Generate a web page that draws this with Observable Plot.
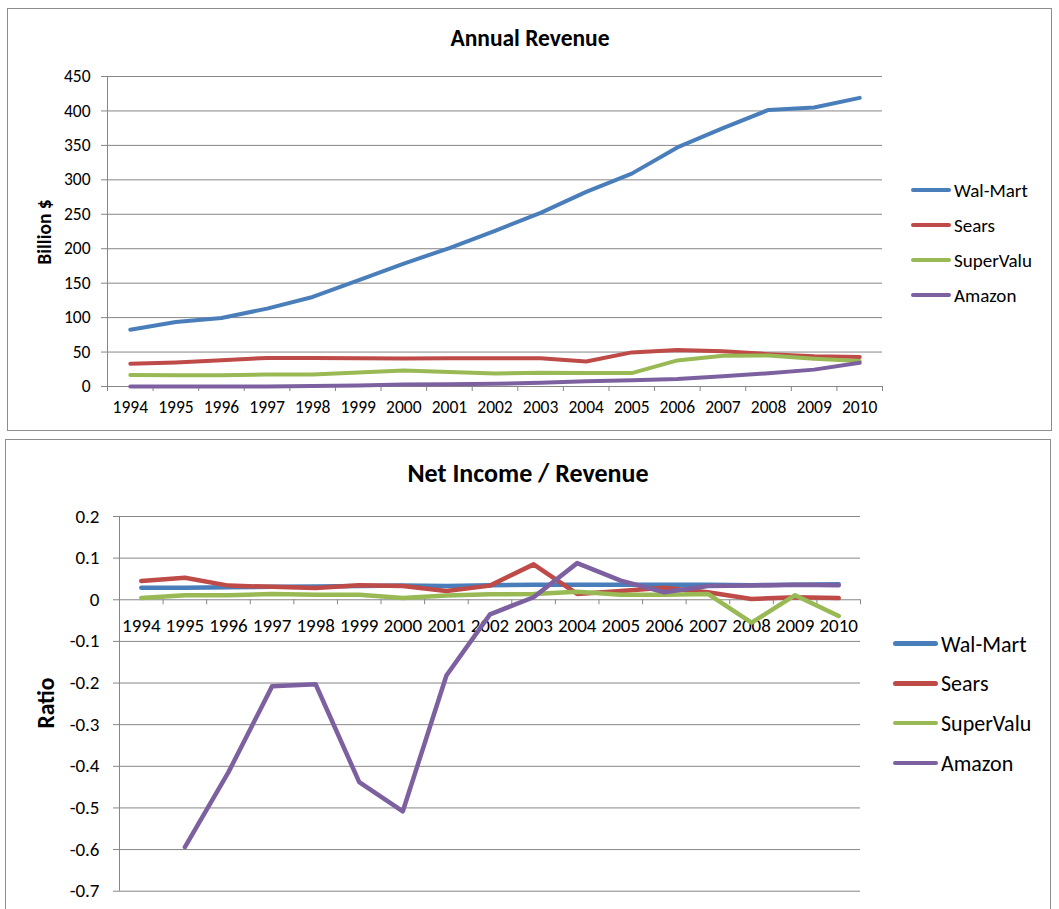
<!DOCTYPE html>
<html>
<head>
<meta charset="utf-8">
<script src="https://cdn.jsdelivr.net/npm/d3@7"></script>
<script src="https://cdn.jsdelivr.net/npm/@observablehq/plot@0.6"></script>
<style>
  html, body { margin: 0; padding: 0; background: #fff; width: 1059px; height: 909px; overflow: hidden; }
  body { font-family: Carlito, Calibri, Lato, sans-serif; color: #000; position: relative; }
  .box { position: absolute; border: 1px solid #8c8c8c; background: #fff; box-sizing: border-box; }
  .title { position: absolute; font-weight: bold; white-space: nowrap; transform: translate(-50%, -50%); }
  .ytitle { position: absolute; font-weight: bold; white-space: nowrap; transform: translate(-50%, -50%) rotate(-90deg); }
  .chart { position: absolute; left: 0; }
  .legend { position: absolute; }
  .legend .row { position: absolute; left: 0; white-space: nowrap; }
  .legend .sw { position: absolute; left: 0; border-radius: 3px; }
  .legend .lab { position: absolute; transform: translateY(-50%); }
</style>
</head>
<body>
<div class="box" style="left:7px; top:8px; width:1045px; height:423px;"></div>
<div class="box" style="left:5px; top:439px; width:1046px; height:480px;"></div>
<div class="title" id="t1" style="left:530px; top:38px; font-size:23.5px;"></div>
<div class="title" id="t2" style="left:528px; top:473px; font-size:26px;"></div>
<div class="ytitle" id="y1" style="left:44px; top:232px; font-size:19.5px;"></div>
<div class="ytitle" id="y2" style="left:46px; top:703px; font-size:23.5px;"></div>
<div class="chart" id="c1" style="top:0px;"></div>
<div class="chart" id="c2" style="top:440px;"></div>
<div class="legend" id="l1"></div>
<div class="legend" id="l2"></div>
<script>
// ---- data ----
const years = [1994, 1995, 1996, 1997, 1998, 1999, 2000, 2001, 2002, 2003, 2004, 2005, 2006, 2007, 2008, 2009, 2010];
const companies = ["Wal-Mart", "Sears", "SuperValu", "Amazon"];
const colors = ["#4A7EBB", "#BE4B48", "#98B954", "#7D60A0"];

const revenueWalMart   = [82.5, 93.7, 99.5, 113, 130, 154, 178.5, 201, 226, 252, 282.5, 309, 347, 375, 401.5, 405, 419];
const revenueSears     = [33, 35, 38, 41.5, 41.5, 41, 40.8, 41, 41, 41, 36.4, 49.5, 53, 51, 47, 44, 43];
const revenueSuperValu = [16.6, 16.5, 16.5, 17.3, 17.4, 20.3, 23.2, 21, 19, 20, 19.5, 19.5, 37.9, 44.5, 45, 40.3, 37];
const revenueAmazon    = [0, 0.0, 0.02, 0.15, 0.6, 1.6, 2.8, 3.1, 3.9, 5.3, 7.5, 9, 11, 15, 19.2, 24.5, 34.5];

const ratioWalMart   = [0.029, 0.029, 0.030, 0.031, 0.032, 0.033, 0.034, 0.033, 0.035, 0.036, 0.036, 0.036, 0.036, 0.036, 0.035, 0.036, 0.037];
const ratioSears     = [0.045, 0.053, 0.034, 0.031, 0.028, 0.035, 0.033, 0.021, 0.034, 0.085, 0.014, 0.021, 0.029, 0.018, 0.002, 0.006, 0.004];
const ratioSuperValu = [0.004, 0.011, 0.011, 0.014, 0.012, 0.012, 0.004, 0.010, 0.013, 0.014, 0.019, 0.012, 0.012, 0.014, -0.055, 0.011, -0.039];
const ratioAmazon    = [null, -0.594, -0.414, -0.208, -0.203, -0.438, -0.508, -0.182, -0.035, 0.006, 0.088, 0.046, 0.018, 0.033, 0.034, 0.036, 0.035];

const revenueTicks = [0, 50, 100, 150, 200, 250, 300, 350, 400, 450];
const ratioTicks = [0.2, 0.1, 0, -0.1, -0.2, -0.3, -0.4, -0.5, -0.6, -0.7];

const title1 = "Annual Revenue";
const title2 = "Net Income / Revenue";
const yLabel1 = "Billion $";
const yLabel2 = "Ratio";

// ---- build tables ----
const revenueSeries = [revenueWalMart, revenueSears, revenueSuperValu, revenueAmazon];
const ratioSeries = [ratioWalMart, ratioSears, ratioSuperValu, ratioAmazon];
const toTable = (series) => companies.flatMap((c, k) => years.map((yr, i) => ({company: c, year: yr, value: series[k][i]})));
const revenueTable = toTable(revenueSeries);
const ratioTable = toTable(ratioSeries);

const bounds = years.map(y => y - 0.5).concat([years[years.length - 1] + 0.5]);
const xDomain = [bounds[0], bounds[bounds.length - 1]];
const GRID = "#868686";
const FONT = "Carlito, Calibri, Lato, sans-serif";

function makeChart({table, ticks, domain, width, height, margins, tickFont, tickPadding, labelDy, strokeWidth}) {
  return Plot.plot({
    width, height,
    marginLeft: margins[0], marginRight: margins[1], marginTop: margins[2], marginBottom: margins[3],
    style: {background: "transparent", overflow: "visible", fontFamily: FONT, fontSize: tickFont + "px", color: "#000"},
    x: {type: "linear", domain: xDomain, axis: null},
    y: {domain, axis: null},
    color: {domain: companies, range: colors},
    marks: [
      Plot.ruleY(ticks, {stroke: GRID, strokeWidth: 1}),
      Plot.ruleX([xDomain[0]], {stroke: GRID, strokeWidth: 1}),
      Plot.axisY(ticks, {anchor: "left", tickSize: 6, tickPadding, stroke: GRID, fill: "#000", fontSize: tickFont, tickFormat: d => String(d), label: null}),
      Plot.ruleX(bounds, {x: d => d, y1: 0, y2: 0, insetBottom: -5, stroke: GRID, strokeWidth: 1}),
      Plot.text(years, {x: d => d, y: 0, dy: labelDy, text: d => String(d), fontSize: tickFont, fill: "#000"}),
      Plot.line(table, {x: "year", y: "value", z: "company", stroke: "company", strokeWidth, strokeLinejoin: "round", strokeLinecap: "round"})
    ]
  });
}

document.getElementById("c1").appendChild(makeChart({
  table: revenueTable, ticks: revenueTicks, domain: [0, 450],
  width: 900, height: 430, margins: [107, 18, 76, 44],
  tickFont: 17.5, tickPadding: 11, labelDy: 21, strokeWidth: 4
}));
document.getElementById("c2").appendChild(makeChart({
  table: ratioTable, ticks: ratioTicks, domain: [-0.7, 0.2],
  width: 900, height: 469, margins: [119, 40, 76, 18.3],
  tickFont: 19, tickPadding: 14, labelDy: 26, strokeWidth: 4.5
}));

document.getElementById("t1").textContent = title1;
document.getElementById("t2").textContent = title2;
document.getElementById("y1").textContent = yLabel1;
document.getElementById("y2").textContent = yLabel2;

function legend(id, left, top, step, lineW, thick, gap, fontSize) {
  const el = document.getElementById(id);
  el.style.left = left + "px";
  el.style.top = top + "px";
  companies.forEach((c, i) => {
    const row = document.createElement("div");
    row.className = "row";
    row.style.top = (i * step) + "px";
    const sw = document.createElement("div");
    sw.className = "sw";
    sw.style.width = lineW + "px";
    sw.style.height = thick + "px";
    sw.style.top = (-thick / 2) + "px";
    sw.style.background = colors[i];
    const lab = document.createElement("div");
    lab.className = "lab";
    lab.style.left = (lineW + gap) + "px";
    lab.style.fontSize = fontSize + "px";
    lab.textContent = c;
    row.appendChild(sw);
    row.appendChild(lab);
    el.appendChild(row);
  });
}
legend("l1", 911, 189.5, 35.3, 40, 4, 3, 19);
legend("l2", 893, 643.5, 39.8, 45, 4.5, 3, 22);
</script>
</body>
</html>
